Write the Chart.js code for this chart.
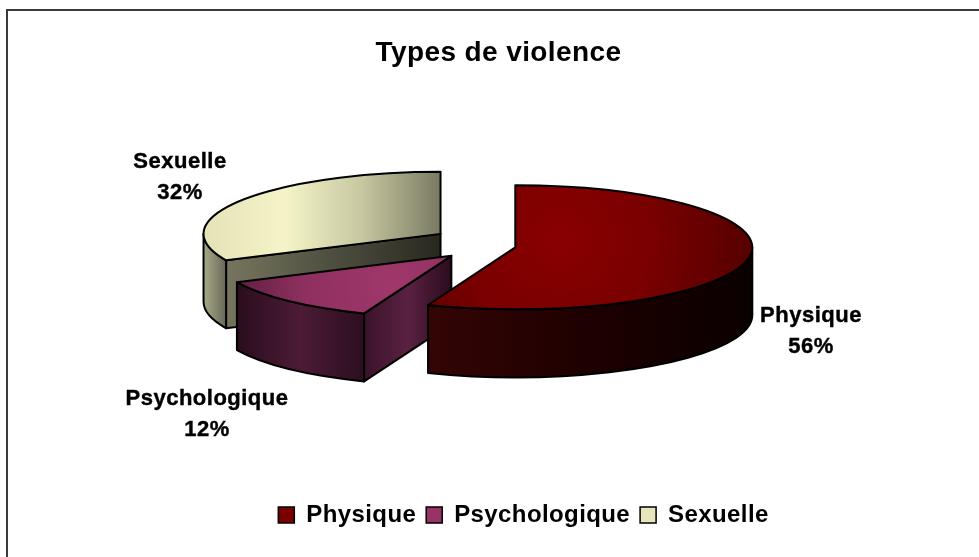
<!DOCTYPE html>
<html>
<head>
<meta charset="utf-8">
<script src="https://cdn.jsdelivr.net/npm/chart.js@4/dist/chart.umd.min.js"></script>
<style>
    html, body { margin: 0; padding: 0; background: #fff; }
    canvas { display: block; }
</style>
</head>
<body>
<canvas id="chart" width="979" height="557"></canvas>
<script>
const categories = ['Physique', 'Psychologique', 'Sexuelle'];
const values = [56, 12, 32];
const explode = [40, 36, 42];
const sliceColors = ['#7a0000', '#993366', '#e6e6bd'];

const FONT = 'Arial, "Liberation Sans", sans-serif';

// 3D view of the pie (orthographic, ellipse top + extruded wall)
const PIE = { cx: 476, cy: 244, rx: 237, ry: 62, depth: 68, k: 0.45 };

// where Excel put the data labels (first line baseline, centred)
const LABEL_AT = [[811, 322], [207, 405], [180, 168]];

const SHADE = [
    { // Physique
        top: { type: 'radial', dx: 45, dy: -8, r: 270, stops: ['#8a0000', '#7a0000', '#5a0000', '#3c0000'] },
        wall: ['#340505', '#1e0000', '#0a0000'],
        face: ['#340505', '#1e0000', '#0a0000']
    },
    { // Psychologique
        top: { type: 'radial', dx: -60, dy: 28, r: 175, stops: ['#a0376b', '#8e305f', '#531a38'] },
        wall: ['#2a0d1d', '#4c1b36', '#2c0e1f'],
        face: ['#3a1329', '#5a2142', '#2a0c1c']
    },
    { // Sexuelle
        top: { type: 'linear', stops: ['#e4e4b8', '#f4f4c8', '#c6c6a0', '#7a7a63'] },
        wall: ['#a8a88a', '#8a8a70', '#66665a'],
        face: ['#76765f', '#4e4e40', '#28281f']
    }
];

function hGrad(ctx, x0, x1, stops) {
    const g = ctx.createLinearGradient(x0, 0, x1, 0);
    stops.forEach((c, i) => g.addColorStop(i / (stops.length - 1), c));
    return g;
}

function drawSlice(ctx, s) {
    const st = SHADE[s.i];
    const { rx, ry, depth } = PIE;
    const pt = a => [s.x + rx * Math.cos(a), s.y + ry * Math.sin(a)];

    ctx.save();
    ctx.lineWidth = 2;
    ctx.lineJoin = 'round';
    ctx.strokeStyle = '#000';

    // radial cut faces that turn towards the viewer
    const faces = [];
    if (Math.cos(s.a0) < -1e-6) faces.push(s.a0);
    if (Math.cos(s.a1) > 1e-6) faces.push(s.a1);
    faces.forEach(a => {
        const [ex, ey] = pt(a);
        ctx.beginPath();
        ctx.moveTo(s.x, s.y);
        ctx.lineTo(ex, ey);
        ctx.lineTo(ex, ey + depth);
        ctx.lineTo(s.x, s.y + depth);
        ctx.closePath();
        ctx.fillStyle = hGrad(ctx, Math.min(ex, s.x), Math.max(ex, s.x), st.face);
        ctx.fill();
        ctx.stroke();
    });

    // outer wall, front half only
    const b0 = Math.max(s.a0, 0);
    const b1 = Math.min(s.a1, Math.PI);
    if (b1 > b0) {
        ctx.beginPath();
        ctx.ellipse(s.x, s.y, rx, ry, 0, b0, b1);
        ctx.ellipse(s.x, s.y + depth, rx, ry, 0, b1, b0, true);
        ctx.closePath();
        const xa = pt(b0)[0], xb = pt(b1)[0];
        ctx.fillStyle = hGrad(ctx, Math.min(xa, xb), Math.max(xa, xb), st.wall);
        ctx.fill();
        ctx.stroke();
    }

    // top face
    ctx.beginPath();
    ctx.moveTo(s.x, s.y);
    ctx.ellipse(s.x, s.y, rx, ry, 0, s.a0, s.a1);
    ctx.closePath();
    if (st.top.type === 'radial') {
        const gx = s.x + st.top.dx, gy = s.y + st.top.dy;
        const g = ctx.createRadialGradient(gx, gy, 0, gx, gy, st.top.r);
        st.top.stops.forEach((c, i) => g.addColorStop(i / (st.top.stops.length - 1), c));
        ctx.fillStyle = g;
    } else {
        ctx.fillStyle = hGrad(ctx, s.x - rx * 0.98, s.x, st.top.stops);
    }
    ctx.fill();
    ctx.stroke();
    ctx.restore();
}

const pie3d = {
    id: 'pie3d',
    beforeUpdate(chart) {
        chart.ctx.letterSpacing = '0.4px';
    },
    beforeDraw(chart) {
        const ctx = chart.ctx;
        ctx.letterSpacing = '0.4px';
        ctx.save();
        ctx.fillStyle = '#fff';
        ctx.fillRect(0, 0, chart.width, chart.height);
        // chart frame (only top and left edges are inside the picture)
        ctx.strokeStyle = '#3a3a3a';
        ctx.lineWidth = 2;
        ctx.beginPath();
        ctx.moveTo(7, chart.height);
        ctx.lineTo(7, 10);
        ctx.lineTo(chart.width, 10);
        ctx.stroke();
        ctx.restore();
    },
    beforeDatasetsDraw(chart) {
        const meta = chart.getDatasetMeta(0);
        const slices = meta.data.map((arc, i) => {
            const { startAngle, endAngle } = arc.getProps(['startAngle', 'endAngle'], true);
            const mid = (startAngle + endAngle) / 2;
            const off = arc.options.offset;
            return {
                i,
                a0: startAngle,
                a1: endAngle,
                x: PIE.cx + off * Math.cos(mid),
                y: PIE.cy + off * Math.sin(mid) * PIE.k
            };
        });
        // left to right is back to front for this view
        slices.sort((a, b) => a.x - b.x).forEach(s => drawSlice(chart.ctx, s));
        return false;
    },
    afterDraw(chart) {
        const ctx = chart.ctx;
        const total = values.reduce((a, b) => a + b, 0);
        ctx.save();
        ctx.letterSpacing = '0.5px';
        ctx.font = `bold 22px ${FONT}`;
        ctx.fillStyle = '#000';
        ctx.strokeStyle = '#000';
        ctx.lineWidth = 0.4;
        ctx.textAlign = 'center';
        ctx.textBaseline = 'alphabetic';
        categories.forEach((name, i) => {
            const [x, y] = LABEL_AT[i];
            const pct = Math.round(values[i] / total * 100) + '%';
            ctx.fillText(name, x, y);
            ctx.strokeText(name, x, y);
            ctx.fillText(pct, x, y + 31);
            ctx.strokeText(pct, x, y + 31);
        });
        ctx.restore();
    }
};

new Chart(document.getElementById('chart'), {
    type: 'pie',
    data: {
        labels: categories,
        datasets: [{
            data: values,
            backgroundColor: sliceColors,
            borderColor: '#000',
            borderWidth: 1.5,
            offset: explode
        }]
    },
    options: {
        responsive: false,
        animation: false,
        events: [],
        layout: { padding: { top: 10, left: 18, right: 0, bottom: 20 } },
        plugins: {
            title: {
                display: true,
                text: 'Types de violence',
                color: '#000',
                font: { family: FONT, size: 28, weight: 'bold' },
                padding: { top: 26, bottom: 0 }
            },
            // empty box on the left: shifts the legend's centre like in the original
            subtitle: {
                display: true,
                text: '',
                position: 'left',
                fullSize: false,
                font: { size: 40, lineHeight: 1.25 },
                padding: 0
            },
            legend: {
                position: 'bottom',
                fullSize: false,
                labels: {
                    color: '#000',
                    font: { family: FONT, size: 24, weight: 'bold' },
                    boxWidth: 16,
                    boxHeight: 16,
                    padding: 10
                }
            },
            tooltip: { enabled: false }
        }
    },
    plugins: [pie3d]
});
</script>
</body>
</html>
